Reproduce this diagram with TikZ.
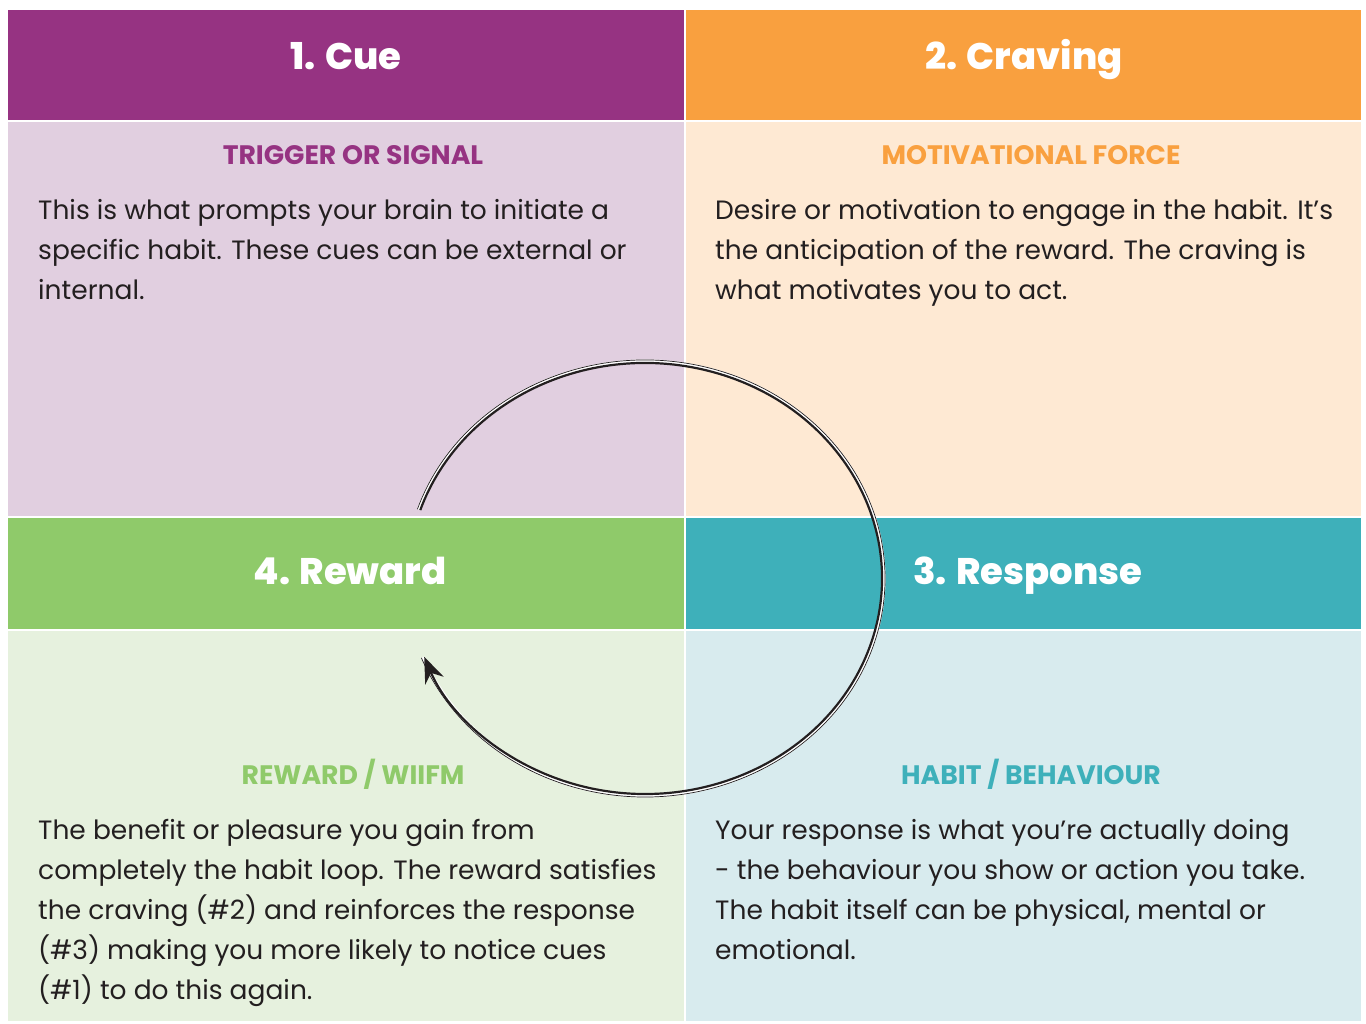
\documentclass[tikz,border=0pt]{standalone}
\usepackage{fontspec}
\setmainfont{Poppins}
\newfontfamily\headfont{Poppins ExtraBold}
\usetikzlibrary{arrows.meta}

\definecolor{ink}{HTML}{231F20}
\definecolor{cuedark}{HTML}{963382}
\definecolor{cuelight}{HTML}{E1CFE0}
\definecolor{cravdark}{HTML}{F9A03F}
\definecolor{cravlight}{HTML}{FEE9D3}
\definecolor{respdark}{HTML}{3EB0BA}
\definecolor{resplight}{HTML}{D8EBEE}
\definecolor{rewdark}{HTML}{8FCA6A}
\definecolor{rewlight}{HTML}{E6F1DE}

\tikzset{
  cell/.style={draw=white, line width=1.5pt, inner sep=0pt, outer sep=0pt},
  headtxt/.style={text=white, font=\fontsize{37}{37}\headfont, anchor=base, inner sep=0pt},
  subtxt/.style={font=\fontsize{26.7}{27}\selectfont\bfseries, anchor=base, inner sep=0pt},
  % base of a multi-line node is its last line
  bodytxt/.style={text=ink, font=\fontsize{26.5}{40}\selectfont, align=left, anchor=base west, inner sep=0pt},
}

\begin{document}
\begin{tikzpicture}[x=1pt,y=1pt]
   \fill[white] (0,0) rectangle (1366,1024);
   \useasboundingbox (0,0) rectangle (1366,1024);

   % the four quarters: coloured bar on top of a pale panel
   \node[cell, fill=cuedark,  minimum width=678pt, minimum height=112pt] (cuebar) at (346,959) {};
   \node[cell, fill=cuelight, minimum width=678pt, minimum height=396pt, anchor=north] (cuepanel) at (cuebar.south) {};
   \node[cell, fill=rewdark,  minimum width=678pt, minimum height=113pt, anchor=north] (rewbar) at (cuepanel.south) {};
   \node[cell, fill=rewlight, minimum width=678pt, minimum height=392pt, anchor=north] (rewpanel) at (rewbar.south) {};
   \node[cell, fill=cravdark,  minimum width=677pt, minimum height=112pt] (cravbar) at (1023.5,959) {};
   \node[cell, fill=cravlight, minimum width=677pt, minimum height=396pt, anchor=north] (cravpanel) at (cravbar.south) {};
   \node[cell, fill=respdark,  minimum width=677pt, minimum height=113pt, anchor=north] (respbar) at (cravpanel.south) {};
   \node[cell, fill=resplight, minimum width=677pt, minimum height=392pt, anchor=north] (resppanel) at (respbar.south) {};

   \node[headtxt] (cuetitle)  at (346,954)  {1. Cue};
   \node[headtxt] (cravtitle) at (1024,954) {2. Craving};
   \node[headtxt] (resptitle) at (1028,439) {3. Response};
   \node[headtxt] (rewtitle)  at (350,439)  {4. Reward};

   \node[subtxt, text=cuedark]  (cuesub)  at (353,859)  {TRIGGER OR SIGNAL};
   \node[subtxt, text=cravdark] (cravsub) at (1031,859) {MOTIVATIONAL FORCE};
   \node[subtxt, text=rewdark]  (rewsub)  at (353,239)  {REWARD / WIIFM};
   \node[subtxt, text=respdark] (respsub) at (1031,239) {HABIT / BEHAVIOUR};

   \node[bodytxt] (cuetext) at (38,724) {This is what prompts your brain to initiate a\\
      specific habit. These cues can be external or\\ internal.};
   \node[bodytxt] (cravtext) at (715,724) {Desire or motivation to engage in the habit. It’s\\
      the anticipation of the reward. The craving is\\ what motivates you to act.};
   \node[bodytxt] (rewtext) at (38,24) {The benefit or pleasure you gain from\\
      completely the habit loop. The reward satisfies\\ the craving (\#2) and reinforces the response\\
      (\#3) making you more likely to notice cues\\ (\#1) to do this again.};
   \node[bodytxt] (resptext) at (715,64) {Your response is what you’re actually doing\\
      - the behaviour you show or action you take.\\ The habit itself can be physical, mental or\\ emotional.};

   % the loop, a sketchy double stroke
   \coordinate (loop) at (645,445.5);
   \draw[white, line width=4pt] (loop) ++(161.5:238.5 and 217) arc[start angle=161.5, end angle=-158.7, x radius=238.5, y radius=217];
   \draw[ink, line width=0.7pt] (loop) ++(161.5:240 and 218.5) arc[start angle=161.5, end angle=-158.7, x radius=240, y radius=218.5];
   \draw[ink, line width=2.2pt, -{Stealth[length=26pt, width=20pt]}]
      (loop) ++(161.5:237 and 215.5) arc[start angle=161.5, end angle=-158.7, x radius=237, y radius=215.5];
\end{tikzpicture}
\end{document}
